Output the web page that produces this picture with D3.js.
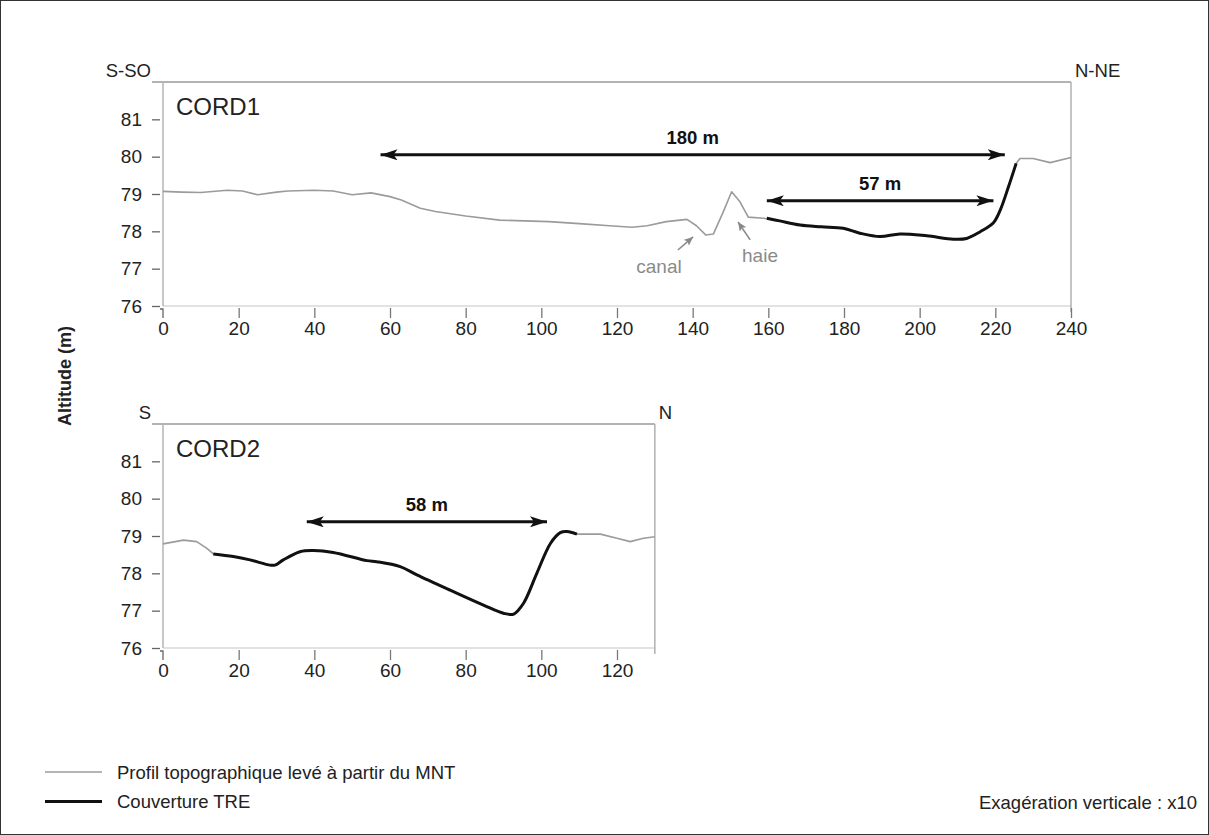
<!DOCTYPE html>
<html>
<head>
<meta charset="utf-8">
<script src="https://cdn.jsdelivr.net/npm/d3@7"></script>
<style>
  html, body { margin: 0; padding: 0; background: #fff; }
  svg { display: block; font-family: "Liberation Sans", Arial, sans-serif; }
</style>
</head>
<body>
<svg id="chart" width="1209" height="835"></svg>
<script>
// ---------------- DATA ----------------
// CORD1 topographic profile (grey, from DEM)
const cord1TopoDist = [0, 5, 10, 17, 21, 25, 30, 33, 40, 45, 50, 55, 60, 63, 68, 72, 80, 89, 102, 111, 118, 124, 128, 133, 138.5, 141, 143.5, 145.5, 148, 150.3, 152.5, 154.7, 158.7, 163, 168.4, 174, 179.8, 184.2, 189.5, 194.8, 201.9, 208.9, 212.4, 216, 219.5, 221.3, 223.5, 225.5, 226.5, 230, 234.5, 240];
const cord1TopoAlt  = [79.07, 79.05, 79.04, 79.1, 79.08, 78.98, 79.05, 79.08, 79.1, 79.08, 78.98, 79.03, 78.93, 78.84, 78.62, 78.53, 78.41, 78.30, 78.26, 78.2, 78.15, 78.11, 78.15, 78.26, 78.32, 78.15, 77.9, 77.93, 78.5, 79.06, 78.79, 78.38, 78.35, 78.28, 78.17, 78.12, 78.08, 77.95, 77.86, 77.93, 77.88, 77.79, 77.81, 77.99, 78.23, 78.57, 79.2, 79.82, 79.95, 79.95, 79.84, 79.98];
// CORD1 TRE coverage (black)
const cord1TreDist = [159.6, 163, 168.4, 174, 179.8, 184.2, 189.5, 194.8, 201.9, 208.9, 212.4, 216, 219.5, 221.3, 223.5, 225.5];
const cord1TreAlt  = [78.35, 78.28, 78.17, 78.12, 78.08, 77.95, 77.86, 77.93, 77.88, 77.79, 77.81, 77.99, 78.23, 78.57, 79.2, 79.82];

// CORD2 topographic profile (grey)
const cord2TopoDist = [0, 5.4, 8.9, 11.6, 13.3, 18.6, 23, 28.3, 29.6, 31.8, 36.2, 39.8, 45, 53.9, 56.5, 62.7, 67.1, 75.9, 84.7, 90, 92.7, 95.3, 98.8, 102.4, 105, 106.8, 109.4, 115.6, 120, 123.5, 127, 130];
const cord2TopoAlt  = [78.79, 78.89, 78.85, 78.67, 78.52, 78.45, 78.36, 78.22, 78.22, 78.36, 78.58, 78.61, 78.56, 78.34, 78.31, 78.18, 77.96, 77.55, 77.15, 76.93, 76.91, 77.2, 78.0, 78.8, 79.09, 79.12, 79.05, 79.05, 78.94, 78.85, 78.94, 78.98];
// CORD2 TRE coverage (black)
const cord2TreDist = [13.3, 18.6, 23, 28.3, 29.6, 31.8, 36.2, 39.8, 45, 53.9, 56.5, 62.7, 67.1, 75.9, 84.7, 90, 92.7, 95.3, 98.8, 102.4, 105, 106.8, 109.4];
const cord2TreAlt  = [78.52, 78.45, 78.36, 78.22, 78.22, 78.36, 78.58, 78.61, 78.56, 78.34, 78.31, 78.18, 77.96, 77.55, 77.15, 76.93, 76.91, 77.2, 78.0, 78.8, 79.09, 79.12, 79.05];

// Dimension arrows: [from, to, altitude, label]
const cord1Arrows = [[57.5, 222.5, 80.05, "180 m"], [159.6, 219.5, 78.82, "57 m"]];
const cord2Arrows = [[38, 101.5, 79.38, "58 m"]];

// Annotations: [label, textX, textAlt, arrowX1, arrowAlt1, arrowX2, arrowAlt2]
const cord1Notes = [["canal", 131.1, 76.88, 136.1, 77.5, 140.1, 77.85],
                    ["haie", 157.8, 77.18, 155.2, 77.77, 152.0, 78.25]];

// Axis ticks
const altTicks = [76, 77, 78, 79, 80, 81];
const cord1DistTicks = [0, 20, 40, 60, 80, 100, 120, 140, 160, 180, 200, 220, 240];
const cord2DistTicks = [0, 20, 40, 60, 80, 100, 120];

const legendLabels = ["Profil topographique levé à partir du MNT", "Couverture TRE"];
const yLabel = "Altitude (m)";
const noteText = "Exagération verticale : x10";

// ---------------- DRAWING ----------------
const svg = d3.select("#chart");
const FONT = 19;

svg.append("rect").attr("x", 0.5).attr("y", 0.5).attr("width", 1208).attr("height", 834)
  .attr("fill", "#fff").attr("stroke", "#333").attr("stroke-width", 1);

const defs = svg.append("defs");
function marker(id, color, len, half, back) {
  defs.append("marker").attr("id", id)
    .attr("markerUnits", "userSpaceOnUse")
    .attr("viewBox", `0 ${-half} ${len} ${half * 2}`)
    .attr("refX", len).attr("refY", 0)
    .attr("markerWidth", len).attr("markerHeight", half * 2)
    .attr("orient", "auto-start-reverse")
    .append("path")
    .attr("d", `M0,${-half} L${len},0 L0,${half} L${back},0 Z`)
    .attr("fill", color);
}
marker("arrowBlack", "#111", 17, 5.5, 4);
marker("arrowGrey", "#888", 9, 4, 2);

function panel(cfg) {
  const x = d3.scaleLinear().domain(cfg.xDomain).range(cfg.xRange);
  const y = d3.scaleLinear().domain([76, 82]).range(cfg.yRange);
  const g = svg.append("g");
  const x0 = x(cfg.xDomain[0]), x1 = x(cfg.xDomain[1]);
  const yTop = y(82), yBot = y(76);

  // faint bottom line
  g.append("line").attr("x1", x0).attr("x2", x1).attr("y1", yBot).attr("y2", yBot)
    .attr("stroke", "#e2e2e2").attr("stroke-width", 2);
  // top frame line
  g.append("line").attr("x1", x0 - 11).attr("x2", x1).attr("y1", yTop).attr("y2", yTop)
    .attr("stroke", "#9a9a9a").attr("stroke-width", 1.5);
  // right frame line
  g.append("line").attr("x1", x1).attr("x2", x1).attr("y1", yTop).attr("y2", yBot + 6)
    .attr("stroke", "#b0b0b0").attr("stroke-width", 1.5);
  // left axis line
  g.append("line").attr("x1", x0).attr("x2", x0).attr("y1", yTop).attr("y2", yBot)
    .attr("stroke", "#b5b5b5").attr("stroke-width", 1.5);
  // corner at 76
  g.append("path").attr("d", `M${x0 - 3},${yBot + 3} L${x0},${yBot + 3} L${x0},${yBot + 12}`)
    .attr("fill", "none").attr("stroke", "#666").attr("stroke-width", 1.3);

  // y axis
  const ya = g.append("g").attr("transform", `translate(${x0 - 3},0)`)
    .call(d3.axisLeft(y).tickValues(altTicks).tickSize(8).tickPadding(10).tickFormat(d3.format("d")));
  ya.select(".domain").remove();
  ya.selectAll(".tick line").attr("stroke", "#666").attr("stroke-width", 1.3);
  ya.selectAll(".tick text").attr("font-size", FONT).attr("fill", "#222")
    .attr("font-family", "Liberation Sans, Arial, sans-serif");

  // x axis
  const xa = g.append("g").attr("transform", `translate(0,${yBot + 2})`)
    .call(d3.axisBottom(x).tickValues(cfg.xTicks).tickSize(10).tickPadding(4).tickFormat(d3.format("d")));
  xa.select(".domain").remove();
  xa.selectAll(".tick line").attr("stroke", "#777").attr("stroke-width", 1.3);
  xa.selectAll(".tick").filter(d => d === 0).select("line").remove();
  xa.selectAll(".tick text").attr("font-size", FONT).attr("fill", "#222")
    .attr("font-family", "Liberation Sans, Arial, sans-serif");

  // direction labels
  g.append("text").attr("x", x0 - 12).attr("y", yTop - 5).attr("text-anchor", "end")
    .attr("font-size", 18.5).attr("fill", "#222").text(cfg.left);
  g.append("text").attr("x", x1 + 4).attr("y", yTop - 5).attr("text-anchor", "start")
    .attr("font-size", 18.5).attr("fill", "#222").text(cfg.right);
  // panel title
  g.append("text").attr("x", x0 + 13).attr("y", yTop + 33)
    .attr("font-size", 24).attr("fill", "#222").text(cfg.title);

  // lines
  const topo = cfg.topoDist.map((d, i) => [d, cfg.topoAlt[i]]);
  const tre = cfg.treDist.map((d, i) => [d, cfg.treAlt[i]]);
  g.append("path").datum(topo)
    .attr("d", d3.line().x(d => x(d[0])).y(d => y(d[1])))
    .attr("fill", "none").attr("stroke", "#9b9b9b").attr("stroke-width", 1.6)
    .attr("stroke-linejoin", "round");
  g.append("path").datum(tre)
    .attr("d", d3.line().x(d => x(d[0])).y(d => y(d[1])).curve(d3.curveCatmullRom.alpha(0.5)))
    .attr("fill", "none").attr("stroke", "#111").attr("stroke-width", 3)
    .attr("stroke-linejoin", "round");

  // dimension arrows
  cfg.arrows.forEach(a => {
    g.append("line").attr("x1", x(a[0])).attr("x2", x(a[1])).attr("y1", y(a[2])).attr("y2", y(a[2]))
      .attr("stroke", "#111").attr("stroke-width", 3)
      .attr("marker-start", "url(#arrowBlack)").attr("marker-end", "url(#arrowBlack)");
    g.append("text").attr("x", (x(a[0]) + x(a[1])) / 2).attr("y", y(a[2]) - 11)
      .attr("text-anchor", "middle").attr("font-size", 18.5).attr("font-weight", "bold")
      .attr("fill", "#111").text(a[3]);
  });

  // annotations
  (cfg.notes || []).forEach(n => {
    g.append("text").attr("x", x(n[1])).attr("y", y(n[2])).attr("text-anchor", "middle")
      .attr("font-size", 19).attr("fill", "#8a8a8a").text(n[0]);
    g.append("line").attr("x1", x(n[3])).attr("y1", y(n[4])).attr("x2", x(n[5])).attr("y2", y(n[6]))
      .attr("stroke", "#8a8a8a").attr("stroke-width", 1.6).attr("marker-end", "url(#arrowGrey)");
  });
}

panel({
  xDomain: [0, 240], xRange: [163, 1071], yRange: [306, 82],
  xTicks: cord1DistTicks, left: "S-SO", right: "N-NE", title: "CORD1",
  topoDist: cord1TopoDist, topoAlt: cord1TopoAlt, treDist: cord1TreDist, treAlt: cord1TreAlt,
  arrows: cord1Arrows, notes: cord1Notes
});
panel({
  xDomain: [0, 130], xRange: [163, 163 + 130 * 908 / 240], yRange: [648, 424],
  xTicks: cord2DistTicks, left: "S", right: "N", title: "CORD2",
  topoDist: cord2TopoDist, topoAlt: cord2TopoAlt, treDist: cord2TreDist, treAlt: cord2TreAlt,
  arrows: cord2Arrows
});

// y label
svg.append("text").attr("transform", "translate(71,376) rotate(-90)")
  .attr("text-anchor", "middle").attr("font-size", 18).attr("font-weight", "bold")
  .attr("fill", "#222").text(yLabel);

// legend
const legendColors = ["#9b9b9b", "#111"];
const legendWidths = [1.6, 3];
legendLabels.forEach((lab, i) => {
  const yy = 772 + i * 29.5;
  svg.append("line").attr("x1", 45).attr("x2", 102).attr("y1", yy).attr("y2", yy)
    .attr("stroke", legendColors[i]).attr("stroke-width", legendWidths[i]);
  svg.append("text").attr("x", 117).attr("y", yy + 6.5).attr("font-size", 18.5)
    .attr("fill", "#222").text(lab);
});

svg.append("text").attr("x", 1197).attr("y", 809).attr("text-anchor", "end")
  .attr("font-size", 18.5).attr("fill", "#222").text(noteText);
</script>
</body>
</html>
